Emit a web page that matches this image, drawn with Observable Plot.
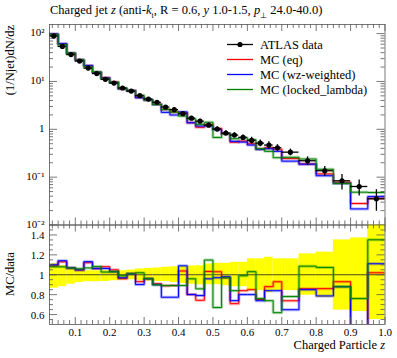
<!DOCTYPE html>
<html><head><meta charset="utf-8">
<script src="https://cdn.jsdelivr.net/npm/d3@7"></script>
<script src="https://cdn.jsdelivr.net/npm/@observablehq/plot@0.6"></script>
<style>
body{margin:0;background:#fff;}
#wrap{position:relative;width:397px;height:358px;font-family:"Liberation Serif",serif;color:#000;overflow:hidden;}
#wrap svg{position:absolute;left:0;top:0;}
#title{position:absolute;left:50px;top:3px;font-size:12.5px;line-height:14px;white-space:nowrap;}
#xlabel{position:absolute;right:12px;top:338px;font-size:12.5px;line-height:14px;white-space:nowrap;}
</style></head><body><div id="wrap">
<div id="title">Charged jet <i>z</i> (anti-<i>k</i><sub style="font-size:8px">t</sub>, R = 0.6, <i>y</i> 1.0-1.5, <i>p</i><sub style="font-size:8px">⊥</sub> 24.0-40.0)</div>
<div id="xlabel">Charged Particle <i>z</i></div>
</div>
<script>
// Bin edges (z)
const edges = [0.025,0.05,0.075,0.1,0.125,0.15,0.175,0.2,0.225,0.25,0.275,0.3,0.325,0.35,0.375,0.4,0.425,0.45,0.475,0.5,0.525,0.55,0.575,0.6,0.625,0.65,0.675,0.7,0.75,0.8,0.85,0.9,0.95,1.0];
// ATLAS data values and relative uncertainties
const dataVal = [89,54,36.4,26.7,19.0,14.6,11.1,9.25,7.3,6.3, 5.05,4.29,3.66,2.92,2.57,2.12,1.71,1.48,1.22,1.01, 0.834,0.757,0.676,0.586,0.514,0.468,0.412,0.333,0.220,0.136, 0.084,0.0638,0.0353];
const errUp = [0.11,0.09,0.068,0.047,0.04,0.04,0.04,0.037,0.04,0.047, 0.058,0.064,0.068,0.075,0.08,0.085,0.088,0.09,0.108,0.115, 0.115,0.125,0.125,0.16,0.16,0.176,0.16,0.16,0.21,0.227, 0.35,0.37,0.55];
const errDown = [0.135,0.12,0.095,0.078,0.07,0.07,0.068,0.06,0.054,0.05, 0.06,0.064,0.068,0.068,0.078,0.088,0.095,0.10,0.10,0.10, 0.11,0.12,0.12,0.16,0.16,0.18,0.16,0.16,0.206,0.23, 0.355,0.37,0.45];
// MC predictions
const mcEq = [97.0,61.0,38.9,28.0,21.3,15.5,12.0,9.71,7.01,6.36, 4.70,4.12,3.33,2.60,2.29,2.20,1.37,1.10,1.26,1.04, 0.809,0.537,0.568,0.498,0.386,0.412,0.383,0.246,0.189,0.117, 0.0781,0.0281,0.0360];
const mcWz = [97.9,61.6,38.9,28.0,21.5,15.5,11.8,9.53,7.08,6.36, 4.55,4.12,3.29,2.26,1.99,2.31,1.37,1.17,1.17,0.980, 0.817,0.560,0.541,0.469,0.380,0.393,0.346,0.216,0.187,0.107, 0.0739,0.0217,0.0392];
const mcLocked = [96.1,58.3,38.9,28.3,20.3,15.8,11.4,9.53,7.23,6.36, 5.15,4.12,3.29,2.60,2.29,1.89,1.64,1.27,1.40,0.677, 0.809,0.636,0.669,0.604,0.391,0.346,0.255,0.260,0.239,0.146, 0.0739,0.0485,0.0477];
// Series names & colours
const seriesNames = ["MC (eq)","MC (wz-weighted)","MC (locked_lambda)"];
const seriesColors = ["#ff0000","#0000ff","#008000"];
const seriesVals = [mcEq, mcWz, mcLocked];
// Tick labels
const xTickVals = [0.1,0.2,0.3,0.4,0.5,0.6,0.7,0.8,0.9,1.0];
const xTickLabels = ["0.1","0.2","0.3","0.4","0.5","0.6","0.7","0.8","0.9","1.0"];
const yTickVals = [100,10,1,0.1,0.01];
const yTickLabels = ["10²","10¹","1","10⁻¹","10⁻²"];
const rTickVals = [0.6,0.8,1.0,1.2,1.4];
const rTickLabels = ["0.6","0.8","1","1.2","1.4"];

const bins = dataVal.map((v,i)=>({lo:edges[i],hi:edges[i+1],mid:(edges[i]+edges[i+1])/2,v,eu:errUp[i],ed:errDown[i]}));
function steps(vals, ratio){
  return vals.flatMap((m,i)=>{const y = ratio? m/dataVal[i] : m; return [{x:edges[i],y},{x:edges[i+1],y}];});
}
const xMinor = d3.range(2,61).map(k=>k/60).filter(v=>v>0.026 && Math.abs(v*10-Math.round(v*10))>1e-6);
const yMinor = [];
[0.01,0.1,1,10].forEach(d=>{for(let k=2;k<=9;k++) yMinor.push(d*k);});
const rMinor = d3.range(0.55,1.5,0.05).filter(v=>Math.abs(v*5-Math.round(v*5))>1e-6);

const W=397, H=358, ML=49, MR=12.5, T1=24, B1=224.5, B2=324;
const H1 = B1-T1, H2 = B2-B1, FW = W-ML-MR;
const tickCol = "#555";
function tickMarks(H, FW, yMajor, yMin){
  const xmaj=7, xmin=4, ymaj=8, ymin=4;
  return [
    Plot.tickX(xTickVals,{x:d=>d,insetTop:H-xmaj,stroke:tickCol,strokeWidth:0.8}),
    Plot.tickX(xTickVals,{x:d=>d,insetBottom:H-xmaj,stroke:tickCol,strokeWidth:0.8}),
    Plot.tickX(xMinor,{x:d=>d,insetTop:H-xmin,stroke:tickCol,strokeWidth:0.8}),
    Plot.tickX(xMinor,{x:d=>d,insetBottom:H-xmin,stroke:tickCol,strokeWidth:0.8}),
    Plot.tickY(yMajor,{y:d=>d,insetRight:FW-ymaj,stroke:tickCol,strokeWidth:0.8}),
    Plot.tickY(yMajor,{y:d=>d,insetLeft:FW-ymaj,stroke:tickCol,strokeWidth:0.8}),
    Plot.tickY(yMin,{y:d=>d,insetRight:FW-ymin,stroke:tickCol,strokeWidth:0.8}),
    Plot.tickY(yMin,{y:d=>d,insetLeft:FW-ymin,stroke:tickCol,strokeWidth:0.8})
  ];
}
const mcMarks = (ratio)=> seriesVals.flatMap((vals,i)=>[
  Plot.line(steps(vals,ratio),{x:"x",y:"y",stroke:seriesColors[i],strokeWidth:3,strokeOpacity:0.3,clip:true}),
  Plot.line(steps(vals,ratio),{x:"x",y:"y",stroke:seriesColors[i],strokeWidth:1,clip:true})
]);

const upper = Plot.plot({
  width:W,height:H,marginLeft:ML,marginRight:MR,marginTop:T1,marginBottom:H-B1,
  x:{domain:[0.025,1.0],axis:null},
  y:{type:"log",domain:[0.01,155],axis:null},
  style:{background:"transparent",fontFamily:"Liberation Serif",fontSize:"11px",overflow:"visible"},
  marks:[
    ...tickMarks(H1,FW,yTickVals,yMinor.filter(v=>v<155)),
    ...mcMarks(false),
    Plot.ruleY(bins,{y:"v",x1:"lo",x2:"hi",stroke:"#000",strokeWidth:1.3}),
    Plot.ruleX(bins,{x:"mid",y1:d=>d.v*(1-d.ed),y2:d=>d.v*(1+d.eu),stroke:"#000",strokeWidth:1.3}),
    Plot.dot(bins,{x:"mid",y:"v",r:2.6,fill:"#000"}),
    Plot.frame({stroke:tickCol,strokeWidth:0.8}),
    Plot.text(yTickVals,{y:d=>d,text:(d,i)=>yTickLabels[i],frameAnchor:"left",dx:-5,dy:-1,textAnchor:"end",fontSize:11})
  ]
});

const ratio = Plot.plot({
  width:W,height:H,marginLeft:ML,marginRight:MR,marginTop:B1,marginBottom:H-B2,
  x:{domain:[0.025,1.0],axis:null},
  y:{domain:[0.5,1.5],axis:null},
  style:{background:"transparent",fontFamily:"Liberation Serif",fontSize:"11px",overflow:"visible"},
  marks:[
    Plot.rect(bins,{x1:"lo",x2:"hi",y1:d=>1-d.ed,y2:d=>Math.min(1.5,1+d.eu),fill:"#ffff00"}),
    Plot.ruleY(bins,{y:()=>1,x1:"lo",x2:"hi",stroke:"#333",strokeWidth:0.9}),
    ...mcMarks(true),
    ...tickMarks(H2,FW,rTickVals,rMinor),
    Plot.frame({stroke:tickCol,strokeWidth:0.8}),
    Plot.text(rTickVals,{y:d=>d,text:(d,i)=>rTickLabels[i],frameAnchor:"left",dx:-5,dy:1,textAnchor:"end",fontSize:11}),
    Plot.text(xTickVals,{x:d=>d,text:(d,i)=>xTickLabels[i],frameAnchor:"bottom",dy:11,fontSize:11})
  ]
});

const wrap = document.getElementById("wrap");
wrap.appendChild(upper);
wrap.appendChild(ratio);

// Legend and axis titles (overlay)
const ns="http://www.w3.org/2000/svg";
const ov=document.createElementNS(ns,"svg");
ov.setAttribute("width",W);ov.setAttribute("height",H);
ov.style.fontFamily="Liberation Serif";ov.style.fontSize="12.5px";
const legNames = ["ATLAS data",...seriesNames];
const legCols = ["#000000",...seriesColors];
legNames.forEach((n,i)=>{
  const y = 44.5 + i*15;
  const ln=document.createElementNS(ns,"line");
  ln.setAttribute("x1",227);ln.setAttribute("x2",253);ln.setAttribute("y1",y);ln.setAttribute("y2",y);
  ln.style.stroke=legCols[i];ln.style.strokeWidth="1.3";
  ov.appendChild(ln);
  if(i==0){const c=document.createElementNS(ns,"circle");c.setAttribute("cx",240);c.setAttribute("cy",y);c.setAttribute("r",2.6);c.style.fill="#000";ov.appendChild(c);}
  const t=document.createElementNS(ns,"text");t.setAttribute("x",260);t.setAttribute("y",y+4);t.style.fill="#000";t.textContent=n;ov.appendChild(t);
});
function vtext(x,y,anchor,str){const t=document.createElementNS(ns,"text");t.setAttribute("transform",`translate(${x},${y}) rotate(-90)`);t.setAttribute("text-anchor",anchor);t.style.fill="#000";t.textContent=str;ov.appendChild(t);}
vtext(14,25,"end","(1/Njet)dN/dz");
vtext(14,274,"middle","MC/data");
wrap.appendChild(ov);
</script></body></html>
